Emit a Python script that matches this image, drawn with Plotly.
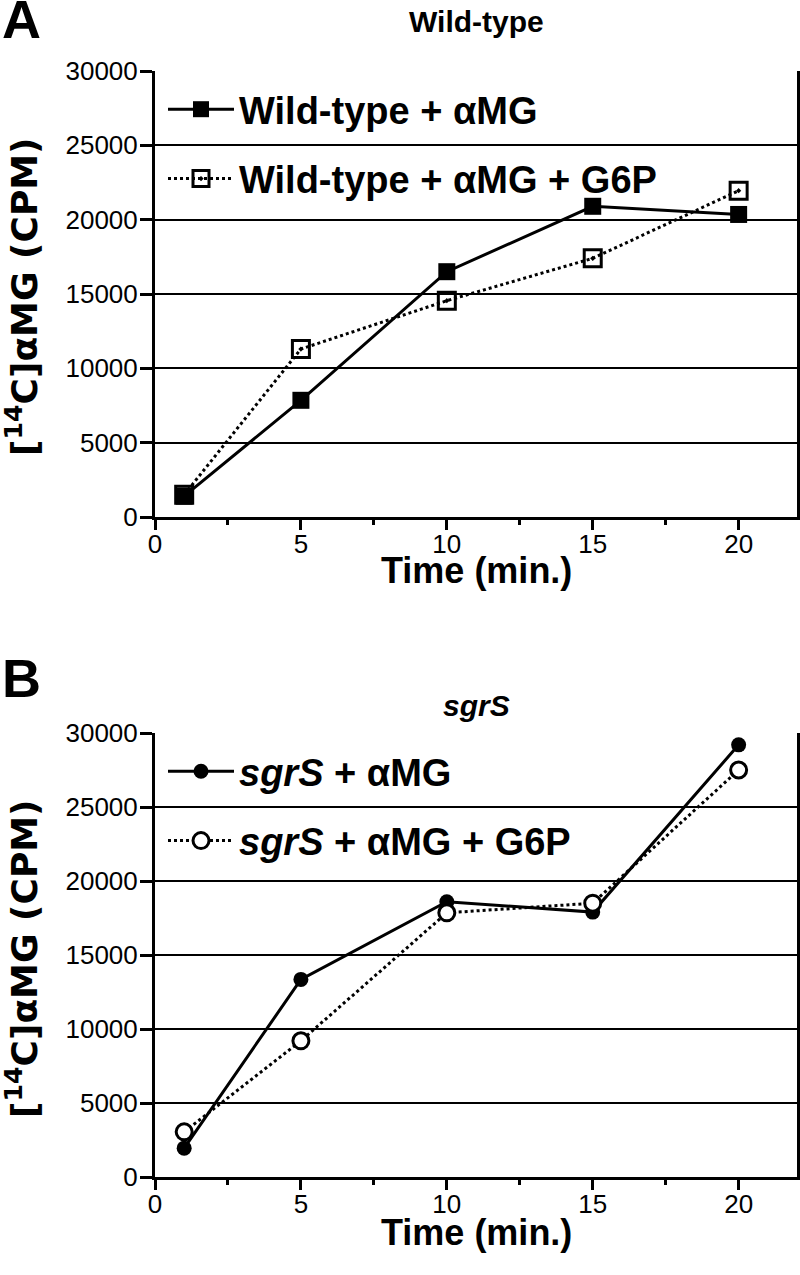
import plotly.graph_objects as go

time_min = [1, 5, 10, 15, 20]
wt_amg = [1400, 7850, 16500, 20900, 20350]
wt_amg_g6p = [1500, 11300, 14550, 17400, 21950]
sgrs_amg = [1950, 13350, 18600, 17900, 29200]
sgrs_amg_g6p = [3050, 9200, 17850, 18500, 27500]

y_ticks = [0, 5000, 10000, 15000, 20000, 25000, 30000]
x_ticks = [0, 5, 10, 15, 20]

FONT = "Liberation Sans, Arial, sans-serif"
W, H = 800, 1275


def px(x):
    return x / W


def py(y):
    return 1 - y / H


fig = go.Figure()

# Panel A
fig.add_trace(go.Scatter(
    x=time_min, y=wt_amg, mode="lines+markers",
    name="<b>Wild-type + αMG</b>", legend="legend", legendgroup="a1",
    line=dict(color="black", width=3),
    marker=dict(symbol="square", size=17, color="black"),
    xaxis="x", yaxis="y"))
fig.add_trace(go.Scatter(
    x=time_min, y=wt_amg_g6p, mode="lines+markers",
    name="<b>Wild-type + αMG + G6P</b>", legend="legend", legendgroup="a2",
    line=dict(color="black", width=3, dash="dot"),
    marker=dict(symbol="square-open-dot", size=17, color="black",
                line=dict(width=3, color="black")),
    xaxis="x", yaxis="y"))

# Panel B
fig.add_trace(go.Scatter(
    x=time_min, y=sgrs_amg, mode="lines+markers",
    name="<b><i>sgrS</i> + αMG</b>", legend="legend2", legendgroup="b1",
    line=dict(color="black", width=3),
    marker=dict(symbol="circle", size=15, color="black"),
    xaxis="x2", yaxis="y2"))
fig.add_trace(go.Scatter(
    x=time_min, y=sgrs_amg_g6p, mode="lines+markers",
    name="<b><i>sgrS</i> + αMG + G6P</b>", legend="legend2", legendgroup="b2",
    line=dict(color="black", width=3, dash="dot"),
    marker=dict(symbol="circle", size=16, color="white",
                line=dict(width=3, color="black")),
    xaxis="x2", yaxis="y2"))

xdom = [px(155), px(797)]
domA = [py(517), py(71)]
domB = [py(1177), py(733)]


def xaxis_cfg(anchor):
    return dict(
        domain=xdom, anchor=anchor, range=[0, 22], automargin=False,
        tickvals=x_ticks, ticktext=[str(v) for v in x_ticks],
        showline=True, linecolor="black", linewidth=3,
        ticks="outside", ticklen=10, tickwidth=3, tickcolor="black",
        minor=dict(dtick=2.5, tick0=0, ticks="outside", ticklen=5,
                   tickwidth=3, tickcolor="black", showgrid=False),
        showgrid=False, zeroline=False, ticklabelstandoff=-8,
        tickfont=dict(family=FONT, size=26, color="black"),
    )


def yaxis_cfg(anchor, dom):
    return dict(
        domain=dom, anchor=anchor, range=[0, 30000], automargin=False,
        tickvals=y_ticks, ticktext=[str(v) for v in y_ticks],
        showline=True, linecolor="black", linewidth=3, mirror=True,
        ticks="outside", ticklen=12, tickwidth=3, tickcolor="black",
        showgrid=True, gridcolor="black", gridwidth=1.5, zeroline=False,
        ticklabelstandoff=-3,
        tickfont=dict(family=FONT, size=26, color="black"),
    )


legend_common = dict(
    bgcolor="rgba(0,0,0,0)", borderwidth=0,
    font=dict(family=FONT, size=38, color="black"),
    xanchor="left", yanchor="top", tracegroupgap=17,
    itemsizing="trace", itemwidth=66,
)

fig.update_layout(
    width=W, height=H,
    margin=dict(l=0, r=0, t=0, b=0, autoexpand=False),
    paper_bgcolor="white", plot_bgcolor="white",
    showlegend=True,
    xaxis=xaxis_cfg("y"),
    yaxis=yaxis_cfg("x", domA),
    xaxis2=xaxis_cfg("y2"),
    yaxis2=yaxis_cfg("x2", domB),
    legend=dict(x=px(163), y=py(78), **legend_common),
    legend2=dict(x=px(163), y=py(740), **legend_common),
    font=dict(family=FONT, color="black"),
)

ann = []
ann.append(dict(text="<b>A</b>", x=px(0), y=py(-13), xref="paper", yref="paper",
                xanchor="left", yanchor="top", showarrow=False,
                font=dict(family=FONT, size=54, color="black")))
ann.append(dict(text="<b>B</b>", x=px(0), y=py(646), xref="paper", yref="paper",
                xanchor="left", yanchor="top", showarrow=False,
                font=dict(family=FONT, size=54, color="black")))
ann.append(dict(text="<b>Wild-type</b>", x=px(476), y=py(22), xref="paper", yref="paper",
                xanchor="center", yanchor="middle", showarrow=False,
                font=dict(family=FONT, size=30, color="black")))
ann.append(dict(text="<b><i>sgrS</i></b>", x=px(476), y=py(705), xref="paper", yref="paper",
                xanchor="center", yanchor="middle", showarrow=False,
                font=dict(family=FONT, size=30, color="black")))
for yc in [571, 1232]:
    ann.append(dict(text="<b>Time (min.)</b>", x=px(476), y=py(yc), xref="paper", yref="paper",
                    xanchor="center", yanchor="middle", showarrow=False,
                    font=dict(family=FONT, size=36, color="black")))
for yc in [297, 959]:
    ann.append(dict(text="<b>[<sup>14</sup>C]αMG (CPM)</b>", x=px(22), y=py(yc),
                    xref="paper", yref="paper", textangle=-90,
                    xanchor="center", yanchor="middle", showarrow=False,
                    font=dict(family="DejaVu Sans, sans-serif", size=36, color="black")))
fig.update_layout(annotations=ann)

fig.write_html("out.html", config={"displayModeBar": False},
               post_script="document.body.style.margin='0';")
